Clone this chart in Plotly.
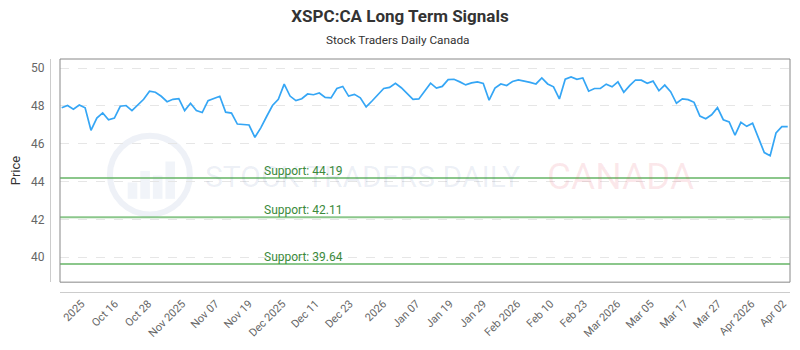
import plotly.graph_objects as go

# ---- data ----
prices = [
    47.90, 48.02, 47.83, 48.05, 47.90, 46.71, 47.36, 47.63, 47.27, 47.36,
    47.98, 48.02, 47.75, 48.05, 48.35, 48.78, 48.72, 48.51, 48.22, 48.35,
    48.38, 47.75, 48.14, 47.75, 47.65,
    48.28, 48.40, 48.51, 47.67, 47.62, 47.04, 47.01, 46.99, 46.34, 46.84,
    47.44, 48.02, 48.35, 49.15, 48.52, 48.28, 48.38, 48.63, 48.59, 48.68,
    48.45, 48.42, 48.92, 49.03, 48.52,
    48.61, 48.43, 47.95, 48.26, 48.61, 48.92, 48.98, 49.20, 48.96, 48.68,
    48.35, 48.37, 48.77, 49.20, 48.94, 49.03, 49.39, 49.41, 49.27, 49.11,
    49.22, 49.27, 49.19, 48.30, 48.94,
    49.16, 49.08, 49.29, 49.37, 49.32, 49.24, 49.16, 49.48, 49.16, 49.01,
    48.37, 49.41, 49.53, 49.41, 49.48, 48.78, 48.92, 48.92, 49.15, 49.01,
    49.27, 48.72, 49.07, 49.37,
    49.36, 49.20, 49.31, 48.80, 49.10, 48.75, 48.14, 48.37, 48.33, 48.19,
    47.46, 47.32, 47.53, 47.91, 47.27, 47.15, 46.45, 47.13, 46.92, 47.08,
    46.31, 45.53, 45.37, 46.57, 46.90, 46.90,
]

support_levels = [44.19, 42.11, 39.64]
support_labels = ["Support: 44.19", "Support: 42.11", "Support: 39.64"]

tick_labels = ["2025", "Oct 16", "Oct 28", "Nov 2025", "Nov 07", "Nov 19",
               "Dec 2025", "Dec 11", "Dec 23", "2026", "Jan 07", "Jan 19",
               "Jan 29", "Feb 2026", "Feb 10", "Feb 23", "Mar 2026", "Mar 05",
               "Mar 17", "Mar 27", "Apr 2026", "Apr 02"]
tick_pos = [3.4, 9.1, 14.8, 20.6, 26.3, 32.0, 37.7, 43.4, 49.2, 54.9, 60.6,
            66.3, 72.0, 77.8, 83.5, 89.2, 94.9, 100.6, 106.4, 112.1, 117.8, 123.2]

y_ticks = [40, 42, 44, 46, 48, 50]

x = list(range(len(prices)))

FONT = "Roboto"

fig = go.Figure()
fig.add_trace(go.Scatter(
    x=x, y=prices, mode="lines",
    line=dict(color="#35a6f5", width=1.7),
    hoverinfo="skip", showlegend=False,
))

shapes = []
annotations = []

# watermark logo
shapes.append(dict(type="circle", xref="paper", yref="paper",
                   x0=0.081, x1=0.189, y0=0.333, y1=0.671,
                   line=dict(color="#eef1f7", width=6), layer="below"))
for bx0, bx1, by1 in [(0.105, 0.118, 0.47), (0.122, 0.135, 0.52),
                      (0.139, 0.152, 0.50), (0.156, 0.169, 0.56)]:
    shapes.append(dict(type="rect", xref="paper", yref="paper",
                       x0=bx0, x1=bx1, y0=0.40, y1=by1,
                       line=dict(width=0), fillcolor="#f1f4f9", layer="below"))

annotations.append(dict(text="STOCK TRADERS DAILY", xref="paper", yref="paper",
                        x=(203 - 50) / 740, y=(296 - 179) / 237,
                        xanchor="left", yanchor="middle", showarrow=False,
                        font=dict(family="Roboto", size=30,
                                  color="rgba(70,100,160,0.10)")))
annotations.append(dict(text="CANADA", xref="paper", yref="paper",
                        x=(545 - 50) / 740, y=(296 - 179) / 237,
                        xanchor="left", yanchor="middle", showarrow=False,
                        font=dict(family="Roboto", size=37,
                                  color="rgba(230,70,90,0.12)")))

for lvl, lab in zip(support_levels, support_labels):
    shapes.append(dict(type="line", xref="x domain", yref="y",
                       x0=0, x1=1, y0=lvl, y1=lvl,
                       line=dict(color="rgba(100,180,100,0.75)", width=2)))
    annotations.append(dict(text=lab, xref="x domain", yref="y",
                            x=0.277, y=lvl, xanchor="left", yanchor="bottom",
                            yshift=-2, showarrow=False,
                            font=dict(family=FONT, size=12, color="#3b8a3b")))

# plot border
shapes.append(dict(type="rect", xref="x domain", yref="y domain",
                   x0=0, x1=1, y0=0, y1=1,
                   line=dict(color="#888888", width=1)))

# subtitle
annotations.append(dict(text="Stock Traders Daily Canada", xref="paper", yref="paper",
                        x=(398 - 50) / 740, y=(296 - 40) / 237,
                        xanchor="center", yanchor="middle", showarrow=False,
                        font=dict(family=FONT, size=11.8, color="#333333")))

fig.update_layout(
    width=800, height=350,
    margin=dict(l=50, r=10, t=59, b=54),
    paper_bgcolor="white", plot_bgcolor="white",
    font=dict(family=FONT, color="#666666"),
    title=dict(text="<b>XSPC:CA Long Term Signals</b>", xref="container", yref="container",
               x=0.5, y=1 - 16 / 350, xanchor="center", yanchor="middle",
               font=dict(family=FONT, size=17, color="#333333")),
    shapes=shapes, annotations=annotations,
    xaxis=dict(
        domain=[10 / 740, 1], anchor="free", position=0,
        range=[-0.29, 124.39],
        tickmode="array", tickvals=tick_pos, ticktext=tick_labels,
        tickangle=-45, tickfont=dict(family=FONT, size=11, color="#666666"),
        showgrid=False, zeroline=False,
        showline=True, linecolor="#cccccc", linewidth=1, ticks="",
    ),
    yaxis=dict(
        domain=[10 / 237, 1], anchor="free", position=0,
        range=[38.68, 50.48],
        tickmode="array", tickvals=y_ticks,
        tickfont=dict(family=FONT, size=12, color="#666666"),
        ticklabelstandoff=3,
        showgrid=True, gridcolor="#e6e6e6", griddash="dash", gridwidth=1,
        zeroline=False, showline=True, linecolor="#cccccc", linewidth=1, ticks="",
        title=dict(text="Price", standoff=6, font=dict(family=FONT, size=13, color="#333333")),
    ),
)

fig.write_html("out.html")
